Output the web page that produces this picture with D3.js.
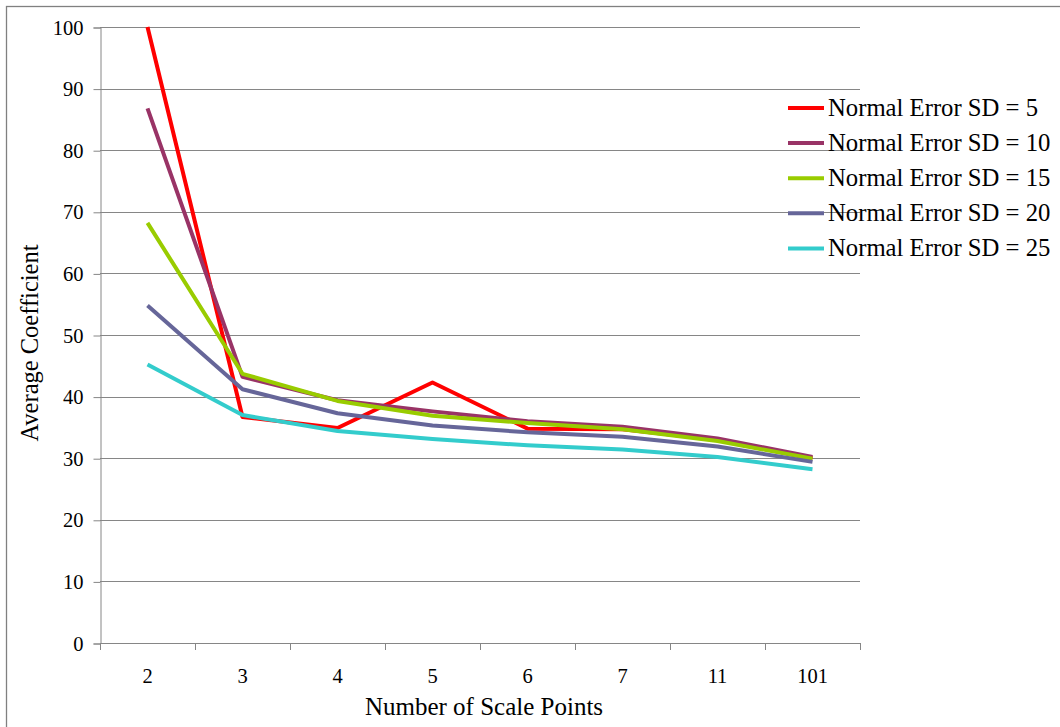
<!DOCTYPE html>
<html>
<head>
<meta charset="utf-8">
<script src="https://cdn.jsdelivr.net/npm/d3@7"></script>
<style>
  html, body { margin: 0; padding: 0; background: #fff; }
  svg { display: block; }
  svg text { font-family: "Liberation Serif", serif; }
</style>
</head>
<body>
<svg id="chart" width="1060" height="727"></svg>
<script>
// Number of scale points (categorical x axis)
const categories = ["2", "3", "4", "5", "6", "7", "11", "101"];

// Average coefficient per scale-point count, one array per error SD
const sd5  = [100.0, 36.7, 34.9, 42.3, 34.8, 34.7, 33.0, 30.0];
const sd10 = [86.8, 43.2, 39.4, 37.6, 36.0, 35.1, 33.2, 30.2];
const sd15 = [68.2, 43.7, 39.3, 36.9, 35.7, 34.7, 32.8, 29.9];
const sd20 = [54.8, 41.2, 37.3, 35.3, 34.2, 33.5, 31.9, 29.4];
const sd25 = [45.2, 37.0, 34.4, 33.1, 32.1, 31.4, 30.2, 28.2];

const seriesNames = [
  "Normal Error SD = 5",
  "Normal Error SD = 10",
  "Normal Error SD = 15",
  "Normal Error SD = 20",
  "Normal Error SD = 25"
];
const seriesColors = ["#ff0000", "#993366", "#99cc00", "#666699", "#33cccc"];
const yTicks = [0, 10, 20, 30, 40, 50, 60, 70, 80, 90, 100];

const series = [sd5, sd10, sd15, sd20, sd25].map((values, i) => ({
  name: seriesNames[i],
  color: seriesColors[i],
  values
}));

const FONT = "Liberation Serif, serif";
const svg = d3.select("#chart");
const plot = { left: 100, right: 860, top: 27, bottom: 643 };
const gridColor = "#868686";

// Outer chart frame
svg.append("rect")
  .attr("x", 6.5).attr("y", 6.5)
  .attr("width", 1100).attr("height", 800)
  .attr("fill", "#fff")
  .attr("stroke", "#808080")
  .attr("stroke-width", 1.3);

const x = d3.scaleBand().domain(categories).range([plot.left, plot.right]).paddingInner(0).paddingOuter(0);
const y = d3.scaleLinear().domain([0, 100]).range([plot.bottom, plot.top]);

// Horizontal gridlines
svg.append("g")
  .selectAll("line")
  .data(yTicks.filter(d => d > 0))
  .join("line")
  .attr("x1", plot.left).attr("x2", plot.right)
  .attr("y1", d => Math.round(y(d)) + 0.5)
  .attr("y2", d => Math.round(y(d)) + 0.5)
  .attr("stroke", gridColor)
  .attr("stroke-width", 1);

// Y axis
const yAxis = svg.append("g")
  .attr("transform", `translate(${plot.left + 0.5},0.5)`)
  .call(d3.axisLeft(y).tickValues(yTicks).tickSize(7).tickPadding(10).tickFormat(d3.format("d")))
  .attr("font-family", FONT);
yAxis.select(".domain").attr("stroke", gridColor);
yAxis.selectAll(".tick line").attr("stroke", gridColor);
yAxis.selectAll(".tick text")
  .attr("fill", "#000")
  .attr("font-size", "20.5px")
  .attr("font-family", FONT);

// X axis: ticks sit on band boundaries, labels at band centres
const boundaries = categories.map(c => x(c)).concat([plot.right]);
const xAxisG = svg.append("g").attr("font-family", FONT);
xAxisG.append("line")
  .attr("x1", plot.left).attr("x2", plot.right)
  .attr("y1", plot.bottom + 0.5).attr("y2", plot.bottom + 0.5)
  .attr("stroke", gridColor);
xAxisG.selectAll("line.tk")
  .data(boundaries)
  .join("line")
  .attr("class", "tk")
  .attr("x1", d => Math.round(d) + 0.5).attr("x2", d => Math.round(d) + 0.5)
  .attr("y1", plot.bottom).attr("y2", plot.bottom + 7)
  .attr("stroke", gridColor);
xAxisG.selectAll("text")
  .data(categories)
  .join("text")
  .attr("x", d => x(d) + x.bandwidth() / 2)
  .attr("y", plot.bottom + 40)
  .attr("text-anchor", "middle")
  .attr("font-size", "20.5px")
  .attr("font-family", FONT)
  .attr("fill", "#000")
  .text(d => d);

// Series lines
const line = d3.line()
  .x((d, i) => x(categories[i]) + x.bandwidth() / 2)
  .y(d => y(d));

svg.append("g")
  .selectAll("path")
  .data(series)
  .join("path")
  .attr("d", d => line(d.values))
  .attr("fill", "none")
  .attr("stroke", d => d.color)
  .attr("stroke-width", 4)
  .attr("stroke-linejoin", "round")
  .attr("stroke-linecap", "butt");

// Axis titles
svg.append("text")
  .attr("x", 484)
  .attr("y", 715)
  .attr("text-anchor", "middle")
  .attr("font-size", "25px")
  .attr("font-family", FONT)
  .attr("fill", "#000")
  .text("Number of Scale Points");

svg.append("text")
  .attr("transform", `translate(38,${(plot.top + plot.bottom) / 2 + 8}) rotate(-90)`)
  .attr("text-anchor", "middle")
  .attr("font-size", "24.5px")
  .attr("font-family", FONT)
  .attr("fill", "#000")
  .text("Average Coefficient");

// Legend
const legend = svg.append("g").attr("transform", "translate(788,108)");
const item = legend.selectAll("g")
  .data(series)
  .join("g")
  .attr("transform", (d, i) => `translate(0,${i * 35.1})`);
item.append("line")
  .attr("x1", 0).attr("x2", 36)
  .attr("y1", 0).attr("y2", 0)
  .attr("stroke", d => d.color)
  .attr("stroke-width", 4);
item.append("text")
  .attr("x", 40)
  .attr("y", 8)
  .attr("font-size", "24.7px")
  .attr("font-family", FONT)
  .attr("fill", "#000")
  .text(d => d.name);
</script>
</body>
</html>
